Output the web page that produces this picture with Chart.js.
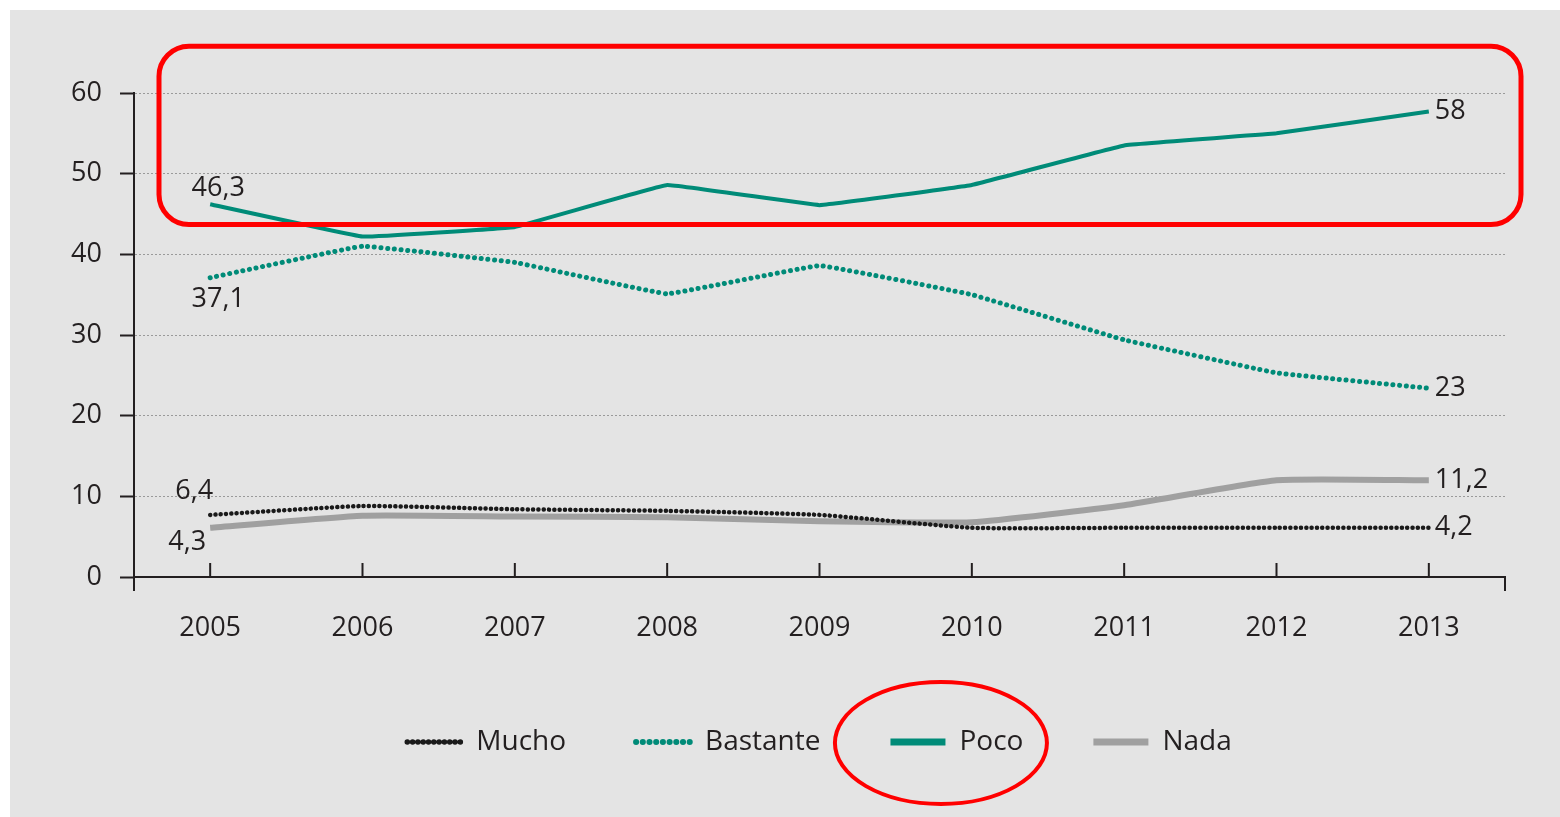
<!DOCTYPE html>
<html>
<head>
<meta charset="utf-8">
<script src="https://cdn.jsdelivr.net/npm/chart.js@4/dist/chart.umd.min.js"></script>
<style>
    html, body { margin: 0; padding: 0; background: #ffffff; }
    #panel { position: absolute; left: 10px; top: 10px; width: 1550px; height: 807px; background: #e4e4e4; }
</style>
</head>
<body>
<div id="panel"><canvas id="chart" width="1550" height="807"></canvas></div>
<script>
// Values
const years = ['2005', '2006', '2007', '2008', '2009', '2010', '2011', '2012', '2013'];
const mucho = [7.7, 8.8, 8.4, 8.2, 7.7, 6.1, 6.1, 6.1, 6.1];
const bastante = [37.1, 41.0, 39.0, 35.1, 38.6, 35.0, 29.4, 25.3, 23.4];
const poco = [46.2, 42.2, 43.4, 48.6, 46.1, 48.6, 53.5, 55.0, 57.7];
const nada = [6.1, 7.6, 7.5, 7.4, 6.9, 6.8, 8.9, 12.0, 12.0];

// Printed labels at the first and last year
const startLabels = ['6,4', '37,1', '46,3', '4,3'];
const endLabels = ['4,2', '23', '58', '11,2'];

const yTicks = [0, 10, 20, 30, 40, 50, 60];

const TEXT = '#231f20';
const TEAL = '#008b78';
const FONT = '"Open Sans", sans-serif';

// where each start label sits relative to its first point
const startOffsets = [
    { dx: -16, dy: -24 },
    { dx: 8, dy: 22 },
    { dx: 8, dy: -16 },
    { dx: -23, dy: 15 }
];

const pointLabels = {
    id: 'pointLabels',
    afterDatasetsDraw(chart) {
        const { ctx } = chart;
        const x = chart.scales.x;
        const y = chart.scales.y;
        ctx.save();
        ctx.font = '27px ' + FONT;
        ctx.fillStyle = TEXT;
        ctx.textBaseline = 'middle';
        chart.data.datasets.forEach((ds, i) => {
            const last = ds.data.length - 1;
            ctx.textAlign = 'center';
            ctx.fillText(startLabels[i],
                x.getPixelForValue(0) + startOffsets[i].dx,
                y.getPixelForValue(ds.data[0]) + startOffsets[i].dy);
            ctx.textAlign = 'left';
            ctx.fillText(endLabels[i], x.getPixelForValue(last) + 6, y.getPixelForValue(ds.data[last]));
        });
        ctx.restore();
    }
};

const axisMarks = {
    id: 'axisMarks',
    afterDraw(chart) {
        const { ctx, chartArea } = chart;
        const x = chart.scales.x;
        ctx.save();
        ctx.strokeStyle = TEXT;
        ctx.lineWidth = 2;
        ctx.beginPath();
        // category ticks pointing up
        years.forEach((_, i) => {
            const px = x.getPixelForValue(i);
            ctx.moveTo(px, chartArea.bottom);
            ctx.lineTo(px, chartArea.bottom - 14);
        });
        // axis ends hanging below the baseline
        ctx.moveTo(chartArea.left, chartArea.bottom);
        ctx.lineTo(chartArea.left, chartArea.bottom + 14);
        ctx.moveTo(chartArea.right, chartArea.bottom);
        ctx.lineTo(chartArea.right, chartArea.bottom + 14);
        ctx.stroke();
        ctx.restore();
    }
};

// red highlight marks drawn over the chart
const highlights = {
    id: 'highlights',
    afterDraw(chart) {
        const { ctx, chartArea } = chart;
        const y = chart.scales.y;
        ctx.save();
        ctx.strokeStyle = '#ff0000';
        ctx.lineWidth = 5;
        const left = chartArea.left + 25;
        const right = chartArea.right + 16;
        const top = y.getPixelForValue(65.8);
        const bottom = y.getPixelForValue(43.7);
        ctx.beginPath();
        ctx.roundRect(left, top, right - left, bottom - top, 30);
        ctx.stroke();

        const box = chart.legend.legendHitBoxes[2];
        if (box) {
            ctx.lineWidth = 4;
            ctx.beginPath();
            ctx.ellipse(box.left + box.width / 2 - 16, box.top + box.height / 2 + 1, 106, 61, 0, 0, Math.PI * 2);
            ctx.stroke();
        }
        ctx.restore();
    }
};

new Chart(document.getElementById('chart'), {
    type: 'line',
    data: {
        labels: years,
        datasets: [
            { label: 'Mucho', data: mucho, borderColor: '#1a1a1a', backgroundColor: '#1a1a1a',
              borderWidth: 4.5, borderDash: [0.1, 5.2], borderCapStyle: 'round', tension: 0.15 },
            { label: 'Bastante', data: bastante, borderColor: TEAL, backgroundColor: TEAL,
              borderWidth: 5, borderDash: [0.1, 6.6], borderCapStyle: 'round', tension: 0.05 },
            { label: 'Poco', data: poco, borderColor: TEAL, backgroundColor: TEAL,
              borderWidth: 4, tension: 0.05 },
            { label: 'Nada', data: nada, borderColor: '#a0a0a0', backgroundColor: '#a0a0a0',
              borderWidth: 6, tension: 0.15 }
        ]
    },
    options: {
        responsive: false,
        animation: false,
        layout: { padding: { left: 0, right: 55, top: 83, bottom: 51 } },
        elements: { point: { radius: 0, hoverRadius: 0 } },
        scales: {
            x: {
                type: 'category',
                offset: true,
                grid: { display: false },
                border: { display: true, color: TEXT, width: 2 },
                ticks: { color: TEXT, font: { family: FONT, size: 27 }, padding: 27, maxRotation: 0 },
                afterFit(scale) { scale.height = 81; }
            },
            y: {
                min: 0,
                max: 60,
                afterBuildTicks(scale) { scale.ticks = yTicks.map(v => ({ value: v })); },
                grid: {
                    color: ctx => (ctx.tick && ctx.tick.value === 0) ? 'rgba(0,0,0,0)' : '#9a9a9a',
                    lineWidth: 1,
                    tickColor: TEXT,
                    tickLength: 14,
                    tickWidth: 2,
                    tickBorderDash: []
                },
                border: { display: true, color: TEXT, width: 2, dash: [2, 2] },
                ticks: { color: TEXT, font: { family: FONT, size: 27 }, padding: 18 },
                afterFit(scale) { scale.width = 124; }
            }
        },
        plugins: {
            tooltip: { enabled: false },
            legend: {
                position: 'bottom',
                fullSize: false,
                labels: {
                    color: TEXT,
                    font: { family: FONT, size: 28 },
                    usePointStyle: true,
                    pointStyle: 'line',
                    pointStyleWidth: 55,
                    boxWidth: 55,
                    padding: 70,
                    generateLabels(chart) {
                        const items = Chart.defaults.plugins.legend.labels.generateLabels(chart);
                        items.forEach(it => {
                            const ds = chart.data.datasets[it.datasetIndex];
                            it.lineDash = ds.borderDash || [];
                            it.lineCap = ds.borderCapStyle || 'butt';
                            it.lineWidth = ds.borderDash ? ds.borderWidth + 1 : 7;
                        });
                        return items;
                    }
                }
            }
        }
    },
    plugins: [pointLabels, axisMarks, highlights]
});
</script>
</body>
</html>
